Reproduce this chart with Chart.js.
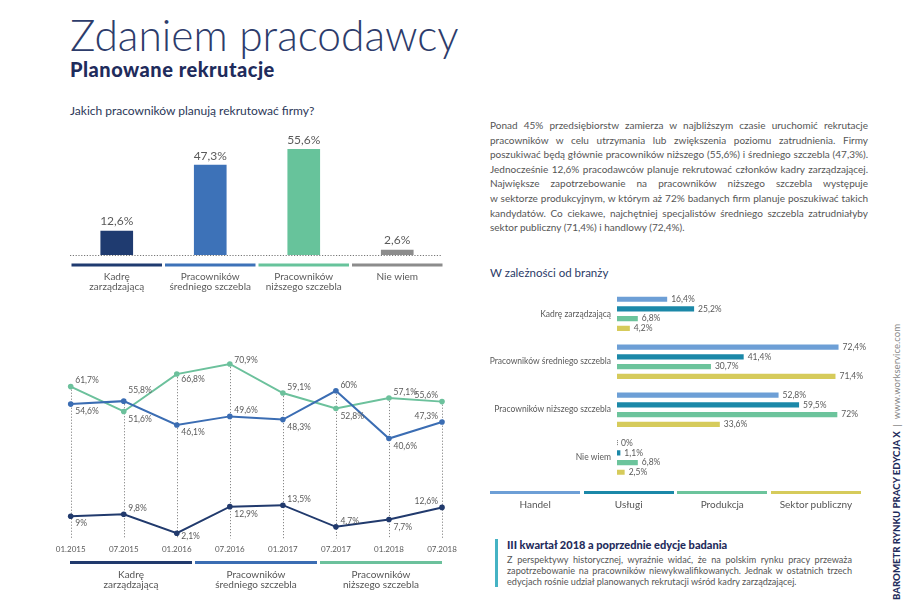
<!DOCTYPE html>
<html><head><meta charset="utf-8">
<script src="https://cdn.jsdelivr.net/npm/chart.js@4.4.0/dist/chart.umd.min.js"></script>
<style>
html,body{margin:0;padding:0;background:#fff;}
body{width:915px;height:607px;overflow:hidden;position:relative;font-family:Lato,"Open Sans",sans-serif;}
.abs{position:absolute;}
canvas{position:absolute;}
.title{left:70px;top:14px;font-size:42.5px;font-weight:300;color:#2d3c6b;line-height:42.5px;white-space:nowrap;}
.sub{left:70px;top:59px;font-size:20px;font-weight:900;color:#1f2c5c;line-height:20px;letter-spacing:0.5px;white-space:nowrap;}
.q{left:70px;top:105px;font-size:12px;color:#2b3758;line-height:12px;white-space:nowrap;}
.para{left:490px;top:118px;width:378px;font-size:10px;color:#555;line-height:14.6px;}
.para div,.para2 div{text-align:justify;text-align-last:justify;white-space:normal;}
.para div.last,.para2 div.last{text-align-last:left;}
.branch{left:490px;top:267px;font-size:11.5px;color:#2b3a67;line-height:12px;white-space:nowrap;}
.bar2{left:495px;top:539px;width:3px;height:48px;background:#45b3c4;}
.head2{left:507px;top:539px;font-size:11px;font-weight:900;color:#1f2c5c;line-height:12px;white-space:nowrap;}
.para2{left:507px;top:554px;width:345px;font-size:9.1px;color:#555;line-height:11px;}
.side{left:0;top:0;transform:translate(891px,600px) rotate(-90deg);transform-origin:0 0;white-space:nowrap;font-size:9.6px;line-height:12px;}
.side b{color:#1f2c5c;font-weight:900;}
.side span{color:#888;}
.leg{position:absolute;height:3px;}
.legt{position:absolute;text-align:center;font-size:10px;color:#555;line-height:10px;white-space:nowrap;}
</style></head><body>

<div class="abs title">Zdaniem pracodawcy</div>
<div class="abs sub">Planowane rekrutacje</div>
<div class="abs q">Jakich pracowników planują rekrutować firmy?</div>

<div class="abs para">
<div>Ponad 45% przedsiębiorstw zamierza w najbliższym czasie uruchomić rekrutacje</div>
<div>pracowników w celu utrzymania lub zwiększenia poziomu zatrudnienia. Firmy</div>
<div>poszukiwać będą głównie pracowników niższego (55,6%) i średniego szczebla (47,3%).</div>
<div>Jednocześnie 12,6% pracodawców planuje rekrutować członków kadry zarządzającej.</div>
<div>Największe zapotrzebowanie na pracowników niższego szczebla występuje</div>
<div>w sektorze produkcyjnym, w którym aż 72% badanych firm planuje poszukiwać takich</div>
<div>kandydatów. Co ciekawe, najchętniej specjalistów średniego szczebla zatrudniałyby</div>
<div class="last">sektor publiczny (71,4%) i handlowy (72,4%).</div>
</div>

<div class="abs branch">W zależności od branży</div>

<div class="abs bar2"></div>
<div class="abs head2">III kwartał 2018 a poprzednie edycje badania</div>
<div class="abs para2">
<div>Z perspektywy historycznej, wyraźnie widać, że na polskim rynku pracy przeważa</div>
<div>zapotrzebowanie na pracowników niewykwalifikowanych. Jednak w ostatnich trzech</div>
<div class="last">edycjach rośnie udział planowanych rekrutacji wśród kadry zarządzającej.</div>
</div>

<div class="abs side"><b>BAROMETR RYNKU PRACY EDYCJA X</b><span> &nbsp;|&nbsp; www.workservice.com</span></div>

<canvas id="c1" width="430" height="190" style="left:40px;top:120px;width:430px;height:190px"></canvas>
<canvas id="c2" width="440" height="260" style="left:30px;top:340px;width:440px;height:260px"></canvas>
<canvas id="c3" width="420" height="215" style="left:480px;top:280px;width:420px;height:215px"></canvas>

<div id="legs"></div>

<script>
// ---------- DATA ----------
const topCategories = [['Kadrę','zarządzającą'],['Pracowników','średniego szczebla'],['Pracowników','niższego szczebla'],['Nie wiem']];
const topValues = [12.6, 47.3, 55.6, 2.6];

const periods = ['01.2015','07.2015','01.2016','07.2016','01.2017','07.2017','01.2018','07.2018'];
const kadraSeries  = [9, 9.8, 2.1, 12.9, 13.5, 4.7, 7.7, 12.6];
const sredniSeries = [54.6, 55.8, 46.1, 49.6, 48.3, 60, 40.6, 47.3];
const nizszySeries = [61.7, 51.6, 66.8, 70.9, 59.1, 52.8, 57.1, 55.6];
const lineSeriesNames = [['Kadrę','zarządzającą'],['Pracowników','średniego szczebla'],['Pracowników','niższego szczebla']];

const branchCategories = ['Kadrę zarządzającą','Pracowników średniego szczebla','Pracowników niższego szczebla','Nie wiem'];
const handel          = [16.4, 72.4, 52.8, 0];
const uslugi          = [25.2, 41.4, 59.5, 1.1];
const produkcja       = [6.8, 30.7, 72, 6.8];
const sektorPubliczny = [4.2, 71.4, 33.6, 2.5];
const branchNames = ['Handel','Usługi','Produkcja','Sektor publiczny'];

// ---------- STYLE ----------
const FONT = 'Lato, "Open Sans", sans-serif';
const GRAY = '#5a5a5a';
const topColors = ['#1f3b70','#3d72b8','#67c39b','#8c8c8c'];
const lineColors = ['#213a6d','#3b6db3','#6cc19c'];
const branchColors = ['#6d9fd6','#1b88a8','#6cc49c','#d6cb5b'];
const fmt = v => String(v).replace('.', ',') + '%';

// label placement (style): a=above-right, b=below-right, r=right, L=above-left
const labelPos = [
  ['b','a','r','b','a','a','b','L'],
  ['b','A','b','a','b','a','b','L'],
  ['a','b','r2','r3','a','b','a','L']
];
const dyMap = {a:-6, A:-11, b:7.5, r:3.5, r2:5, r3:-4, L:-6};

// ---------- CHART 1 ----------
const topPlugin = {
  id:'topPlugin',
  afterDatasetsDraw(chart){
    const ctx = chart.ctx, x = chart.scales.x, y = chart.scales.y, ca = chart.chartArea;
    ctx.save();
    ctx.strokeStyle = '#777'; ctx.lineWidth = 1; ctx.setLineDash([1.2,1.6]);
    ctx.beginPath(); ctx.moveTo(ca.left, y.getPixelForValue(0)+0.5); ctx.lineTo(ca.right-3, y.getPixelForValue(0)+0.5); ctx.stroke();
    ctx.setLineDash([]);
    const meta = chart.getDatasetMeta(0);
    ctx.font = '12px ' + FONT; ctx.fillStyle = GRAY; ctx.textAlign = 'center'; ctx.textBaseline = 'middle';
    meta.data.forEach((bar, i) => {
      ctx.fillText(fmt(topValues[i]), bar.x, bar.y - 9.5);
    });
    const w = (ca.right - ca.left) / topCategories.length;
    topCategories.forEach((lab, i) => {
      const cx = x.getPixelForValue(i);
      ctx.fillStyle = topColors[i];
      ctx.fillRect(cx - w/2 + 1.5, y.getPixelForValue(0) + 8.5, w - 3, 3);
      ctx.fillStyle = GRAY; ctx.font = '10px ' + FONT;
      lab.forEach((t, j) => ctx.fillText(t, cx, y.getPixelForValue(0) + 22 + j*10));
    });
    ctx.restore();
  }
};
new Chart(document.getElementById('c1'), {
  type:'bar',
  data:{labels: topCategories.map(c=>c.join(' ')), datasets:[{data: topValues, backgroundColor: topColors, barThickness: 32}]},
  options:{
    responsive:false, animation:false, events:[],
    layout:{padding:{left:30,right:26,top:21,bottom:55}},
    plugins:{legend:{display:false}, tooltip:{enabled:false}},
    scales:{x:{display:false, offset:true}, y:{display:false, min:0, max:60}}
  },
  plugins:[topPlugin]
});

// ---------- CHART 2 ----------
const allSeries = [kadraSeries, sredniSeries, nizszySeries];
const linePlugin = {
  id:'linePlugin',
  beforeDatasetsDraw(chart){
    const ctx = chart.ctx, x = chart.scales.x, y = chart.scales.y, ca = chart.chartArea;
    ctx.save();
    ctx.strokeStyle = '#888'; ctx.lineWidth = 1; ctx.setLineDash([1.2,1.8]);
    periods.forEach((p, i) => {
      const top = Math.max(...allSeries.map(s => s[i]));
      const px = Math.round(x.getPixelForValue(i)) + 0.5;
      ctx.beginPath(); ctx.moveTo(px, y.getPixelForValue(top)); ctx.lineTo(px, ca.bottom); ctx.stroke();
    });
    ctx.restore();
  },
  afterDatasetsDraw(chart){
    const ctx = chart.ctx, x = chart.scales.x, y = chart.scales.y, ca = chart.chartArea;
    ctx.save();
    ctx.font = '8.5px ' + FONT; ctx.fillStyle = GRAY; ctx.textBaseline = 'middle';
    allSeries.forEach((s, k) => {
      s.forEach((v, i) => {
        const px = x.getPixelForValue(i), py = y.getPixelForValue(v);
        const pos = labelPos[k][i];
        if (pos === 'L') { ctx.textAlign = 'right'; ctx.fillText(fmt(v), px - 4, py + dyMap[pos]); }
        else { ctx.textAlign = 'left'; ctx.fillText(fmt(v), px + 4.5, py + dyMap[pos]); }
      });
    });
    ctx.font = '8px ' + FONT; ctx.textAlign = 'center';
    periods.forEach((p, i) => ctx.fillText(p, x.getPixelForValue(i), ca.bottom + 11));
    ctx.restore();
  }
};
new Chart(document.getElementById('c2'), {
  type:'line',
  data:{labels: periods, datasets: allSeries.map((s, k) => ({
    data: s, borderColor: lineColors[k], backgroundColor: lineColors[k], borderWidth: 2,
    pointRadius: 2.8, pointBackgroundColor: lineColors[k], pointBorderWidth: 0, tension: 0, fill:false
  }))},
  options:{
    responsive:false, animation:false, events:[],
    layout:{padding:{left:40.7,right:28,top:13.9,bottom:61.6}},
    plugins:{legend:{display:false}, tooltip:{enabled:false}},
    scales:{x:{display:false, offset:false}, y:{display:false, min:0, max:75}}
  },
  plugins:[linePlugin]
});

// ---------- CHART 3 ----------
const branchSeries = [handel, uslugi, produkcja, sektorPubliczny];
const branchPlugin = {
  id:'branchPlugin',
  afterDatasetsDraw(chart){
    const ctx = chart.ctx, y = chart.scales.y, x = chart.scales.x;
    ctx.save();
    ctx.font = '8.5px ' + FONT; ctx.fillStyle = GRAY; ctx.textBaseline = 'middle';
    branchSeries.forEach((s, k) => {
      chart.getDatasetMeta(k).data.forEach((bar, i) => {
        ctx.textAlign = 'left';
        ctx.fillText(fmt(s[i]), bar.x + 4, bar.y);
        if (s[i] === 0) {
          ctx.strokeStyle = '#777'; ctx.lineWidth = 1; ctx.setLineDash([1,1]);
          ctx.beginPath(); ctx.moveTo(x.getPixelForValue(0)+0.5, bar.y - 3); ctx.lineTo(x.getPixelForValue(0)+0.5, bar.y + 3); ctx.stroke();
          ctx.setLineDash([]);
        }
      });
    });
    ctx.textAlign = 'right';
    branchCategories.forEach((c, i) => ctx.fillText(c, x.getPixelForValue(0) - 6, y.getPixelForValue(i)));
    ctx.restore();
  }
};
new Chart(document.getElementById('c3'), {
  type:'bar',
  data:{labels: branchCategories, datasets: branchSeries.map((s, k) => ({
    label: branchNames[k], data: s, backgroundColor: branchColors[k], categoryPercentage: 0.81, barPercentage: 0.53
  }))},
  options:{
    indexAxis:'y', responsive:false, animation:false, events:[],
    layout:{padding:{left:137,right:38.2,top:9.8,bottom:13.3}},
    plugins:{legend:{display:false}, tooltip:{enabled:false}},
    scales:{x:{display:false, min:0, max:80}, y:{display:false, offset:true}}
  },
  plugins:[branchPlugin]
});

// ---------- HTML legends ----------
const legs = document.getElementById('legs');
function addLegend(names, colors, left, right, lineTop, textTop, gap){
  const n = names.length, w = (right - left - gap*(n-1)) / n;
  names.forEach((nm, i) => {
    const l = left + i*(w+gap);
    const d = document.createElement('div'); d.className='leg';
    d.style.cssText = `left:${l}px;top:${lineTop}px;width:${w}px;background:${colors[i]}`;
    legs.appendChild(d);
    const t = document.createElement('div'); t.className='legt';
    t.style.cssText = `left:${l}px;top:${textTop}px;width:${w}px`;
    t.innerHTML = (Array.isArray(nm) ? nm : [nm]).join('<br>');
    legs.appendChild(t);
  });
}
addLegend(lineSeriesNames, lineColors, 70, 442, 561, 569, 3);
addLegend(branchNames, branchColors, 490, 861, 490.5, 499, 3.3);
</script>
</body></html>
